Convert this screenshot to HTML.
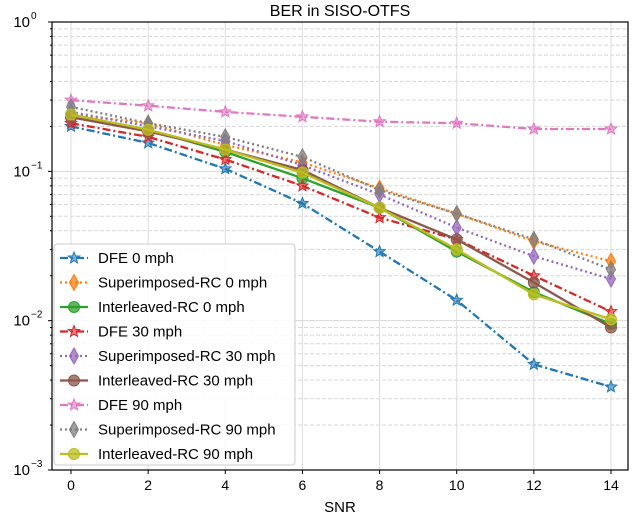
<!DOCTYPE html>
<html><head><meta charset="utf-8"><style>
html,body{margin:0;padding:0;background:#fff;}
svg{display:block;font-family:"Liberation Sans","DejaVu Sans",sans-serif;}
</style></head><body>
<svg id="chart" width="640" height="517">
<text x="340" y="16" text-anchor="middle" font-size="16">BER in SISO-OTFS</text>
<g id="grid"></g><g id="series"></g><g id="axes"></g><g id="legend"></g>
</svg>
<script>
const snr = [0,2,4,6,8,10,12,14];
const xTicks = [0,2,4,6,8,10,12,14];
const seriesNames = ["DFE 0 mph","Superimposed-RC 0 mph","Interleaved-RC 0 mph","DFE 30 mph","Superimposed-RC 30 mph","Interleaved-RC 30 mph","DFE 90 mph","Superimposed-RC 90 mph","Interleaved-RC 90 mph"];
const dfe0 = [0.2,0.155,0.104,0.061,0.029,0.0137,0.0051,0.0036];
const sup0 = [0.24,0.21,0.15,0.115,0.077,0.052,0.034,0.025];
const int0 = [0.24,0.19,0.135,0.09,0.057,0.029,0.0155,0.0095];
const dfe30 = [0.21,0.17,0.12,0.08,0.049,0.035,0.02,0.0115];
const sup30 = [0.25,0.2,0.16,0.11,0.07,0.042,0.027,0.019];
const int30 = [0.23,0.185,0.14,0.102,0.057,0.035,0.018,0.009];
const dfe90 = [0.30,0.275,0.25,0.232,0.215,0.21,0.192,0.192];
const sup90 = [0.27,0.21,0.17,0.125,0.075,0.052,0.035,0.022];
const int90 = [0.24,0.19,0.14,0.098,0.057,0.03,0.015,0.0102];
const allValues = [dfe0,sup0,int0,dfe30,sup30,int30,dfe90,sup90,int90];
const colors = ["#1f77b4","#ff7f0e","#2ca02c","#d62728","#9467bd","#8c564b","#e377c2","#7f7f7f","#bcbd22"];
const dashes = ["8,3,2,3","2,3","","8,3,2,3","2,3","","8,3,2,3","2,3",""];
const markers = ["star","diamond","circle","star","diamond","circle","star","diamond","circle"];

const L=52,R=628,T=22,B=470;
const xs=v=>71+(v-0)*(611-71)/14;
const ys=v=>T+(-Math.log10(v))*(B-T)/3;
const NS="http://www.w3.org/2000/svg";
function mk(tag,attrs,parent){const e=document.createElementNS(NS,tag);for(const k in attrs)e.setAttribute(k,attrs[k]);parent.appendChild(e);return e;}
const grid=document.getElementById('grid'),axes=document.getElementById('axes'),ser=document.getElementById('series'),leg=document.getElementById('legend');
for(let d=0;d<3;d++){for(let m=2;m<=9;m++){const v=Math.pow(10,-d-1)*m;const y=ys(v);
 const g=mk('line',{x1:L,x2:R,y1:y,y2:y,stroke:'#d8d8d8','stroke-width':1,'stroke-dasharray':'4,2'},grid);
 
 }}
for(let d=1;d<3;d++){const y=ys(Math.pow(10,-d));const g=mk('line',{x1:L,x2:R,y1:y,y2:y,stroke:'#d8d8d8','stroke-width':1},grid);
 
 }
xTicks.forEach(t=>{const x=xs(t);const g=mk('line',{x1:x,x2:x,y1:T,y2:B,stroke:'#dcdcdc','stroke-width':1},grid);
 
 
 const tk=mk('line',{x1:x,x2:x,y1:B,y2:B+4,stroke:'#000'},axes);
 
 
 const tx=mk('text',{x:x,y:B+20,'text-anchor':'middle','font-size':14},axes);tx.textContent=t;
 
 });
for(let d=0;d<=3;d++){const y=ys(Math.pow(10,-d));
 const tk=mk('line',{x1:L-4,x2:L,y1:y,y2:y,stroke:'#000'},axes);
 
 
 const tx=mk('text',{x:L-22,y:y+5,'text-anchor':'end','font-size':15},axes);tx.textContent='10';
 
 
 const sp=mk('text',{x:L-21,y:y-3,'font-size':10},axes);sp.textContent=d==0?'0':'\u2212'+d;
 
 
 if(d<3)for(let m=2;m<=9;m++){const yy=ys(Math.pow(10,-d-1)*m);const mt=mk('line',{x1:L-2,x2:L,y1:yy,y2:yy,stroke:'#000'},axes);
  
  }}
const fr=mk('rect',{x:L,y:T,width:R-L,height:B-T,fill:'none',stroke:'#000','stroke-width':1.2},axes);


const xl=mk('text',{x:340,y:512,'text-anchor':'middle','font-size':15},axes);xl.textContent='SNR';



function marker(type,x,y,c,parent){let e;
 if(type=='circle')e=mk('circle',{cx:x,cy:y,r:5.5,fill:c,stroke:c,'fill-opacity':0.75},parent);
 else if(type=='diamond')e=mk('polygon',{points:`${x},${y-8} ${x+4.5},${y} ${x},${y+8} ${x-4.5},${y}`,fill:c,stroke:c,'fill-opacity':0.75},parent);
 else{let p=[];for(let i=0;i<10;i++){const r=i%2?2.6:6;const a=-Math.PI/2+i*Math.PI/5;p.push((x+r*Math.cos(a)).toFixed(1)+','+(y+r*Math.sin(a)).toFixed(1));}
  e=mk('polygon',{points:p.join(' '),fill:c,stroke:c,'fill-opacity':0.6},parent);}
 return e;}

allValues.forEach((vals,i)=>{const g=mk('g',{},ser);
 
 
 const pts=vals.map((v,j)=>xs(snr[j]).toFixed(1)+','+ys(v).toFixed(1)).join(' ');
 const pl=mk('polyline',{points:pts,fill:'none',stroke:colors[i],'stroke-width':2.3,'stroke-dasharray':dashes[i]},g);
 
 
 vals.forEach((v,j)=>{const m=marker(markers[i],xs(snr[j]),ys(v),colors[i],g);
  
  });});

const lb=mk('rect',{x:54,y:244,width:241,height:221,rx:3,fill:'#fff','fill-opacity':0.85,stroke:'#ccc'},leg);


seriesNames.forEach((n,i)=>{const y=258+i*24.5;const g=mk('g',{},leg);
 
 
 mk('line',{x1:60,x2:88,y1:y,y2:y,stroke:colors[i],'stroke-width':2.3,'stroke-dasharray':dashes[i]},g);
 marker(markers[i],74,y,colors[i],g);
 const t=mk('text',{x:98,y:y+5,'font-size':15},g);t.textContent=n;});
</script>
</body></html>
